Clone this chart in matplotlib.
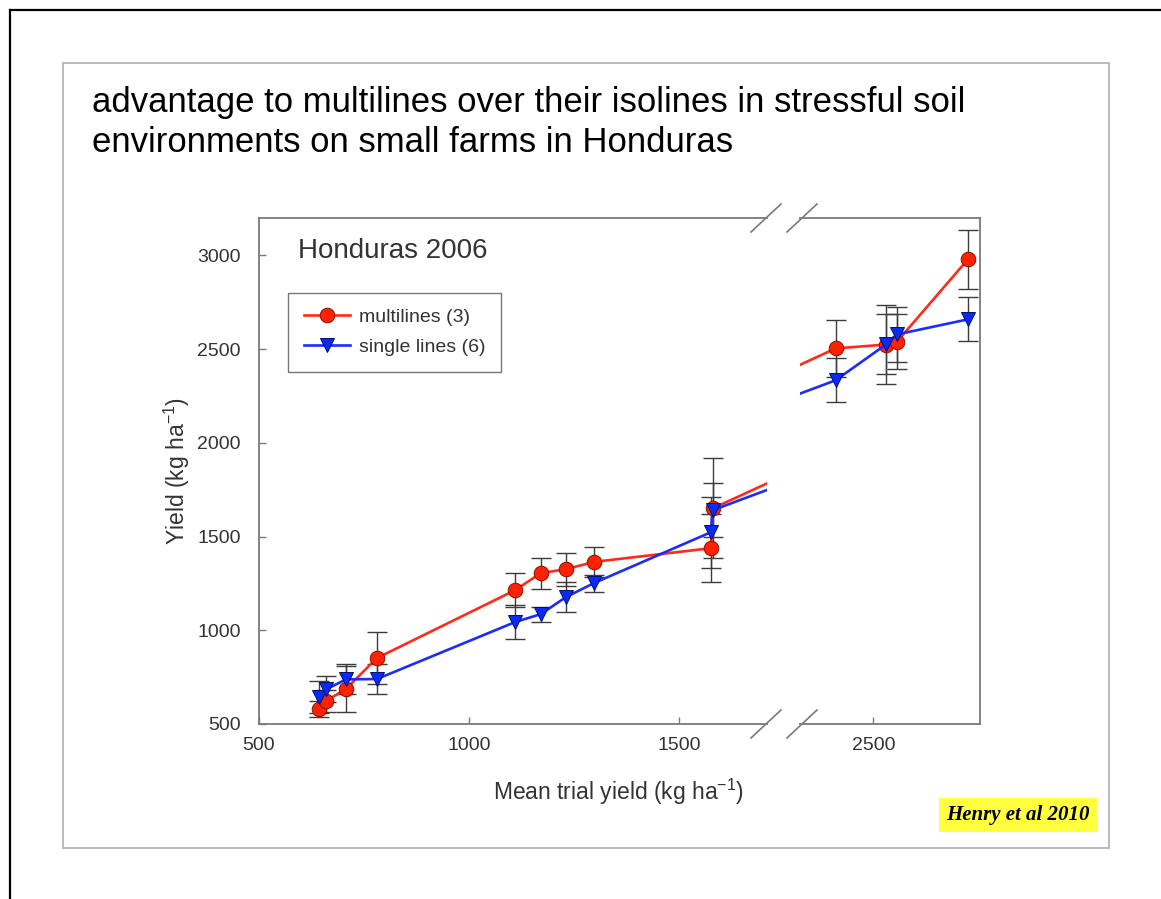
import matplotlib
matplotlib.use("Agg")
import matplotlib.pyplot as plt
from matplotlib.lines import Line2D
from matplotlib.patches import Rectangle

plt.rcParams['font.family'] = ['Liberation Sans', 'DejaVu Sans']

# mean trial yield for each trial (kg/ha)
trial_yield = [643, 660, 707, 781, 1110, 1171, 1231, 1298, 1576, 1581,
               2410, 2531, 2557, 2726]

# multilines (3)
multi_yield = [580, 623, 687, 852, 1214, 1305, 1326, 1365, 1438, 1651,
               2504, 2525, 2541, 2979]
multi_err = [45, 60, 125, 140, 90, 83, 88, 80, 180, 266,
             150, 210, 145, 157]

# single lines (6)
single_yield = [645, 685, 738, 740, 1044, 1086, 1177, 1252, 1523, 1641,
                2334, 2526, 2579, 2659]
single_err = [85, 70, 80, 80, 90, 40, 80, 45, 190, 145,
              118, 160, 145, 117]

W, H = 1161, 899
fig = plt.figure(figsize=(W / 100, H / 100), dpi=100)

def fx(px):
    return px / W

def fy(py):
    return 1 - py / H

# slide frame
fig.add_artist(Line2D([fx(10), fx(10)], [0, fy(10)], color='black', lw=1.6))
fig.add_artist(Line2D([fx(10), 1], [fy(10), fy(10)], color='black', lw=1.6))
fig.add_artist(Rectangle((fx(63), fy(848)), fx(1109) - fx(63), fy(63) - fy(848),
                         fill=False, edgecolor='#b4b4b4', lw=1.3))

fig.text(fx(92), fy(112), 'advantage to multilines over their isolines in stressful soil',
         fontsize=25, va='baseline', ha='left', color='black')
fig.text(fx(92), fy(152), 'environments on small farms in Honduras',
         fontsize=25, va='baseline', ha='left', color='black')

# broken x axis: two panels sharing the y range
left, right, top, bottom = 259, 767, 218, 724
ax1 = fig.add_axes([fx(left), fy(bottom), fx(right) - fx(left), fy(top) - fy(bottom)])
ax2 = fig.add_axes([fx(800), fy(bottom), fx(980) - fx(800), fy(top) - fy(bottom)])

spine_col = '#7a7a7a'
text_col = '#333333'

for ax in (ax1, ax2):
    ax.errorbar(trial_yield, multi_yield, yerr=multi_err, fmt='none',
                ecolor='#3c3c3c', elinewidth=1.0, capsize=7, capthick=1.0, zorder=2)
    ax.errorbar(trial_yield, single_yield, yerr=single_err, fmt='none',
                ecolor='#3c3c3c', elinewidth=1.0, capsize=7, capthick=1.0, zorder=2)
    ax.plot(trial_yield, multi_yield, color='#ff2a1a', lw=1.9, marker='o',
            markersize=10.5, markerfacecolor='#ff2200', markeredgecolor='#8a1000',
            markeredgewidth=0.7, label='multilines (3)', zorder=3)
    ax.plot(trial_yield, single_yield, color='#1a2cff', lw=1.9, marker='v',
            markersize=10.5, markerfacecolor='#0a2af5', markeredgecolor='#00106a',
            markeredgewidth=0.7, label='single lines (6)', zorder=4)
    ax.set_ylim(500, 3200)
    for s in ax.spines.values():
        s.set_color(spine_col)
        s.set_linewidth(1.3)
    ax.tick_params(direction='in', length=5, width=1, color=spine_col,
                   labelsize=14, labelcolor=text_col)
    ax.tick_params(axis='x', pad=9)
    ax.tick_params(axis='y', pad=13)

ax1.set_xlim(500, 1710)
ax2.set_xlim(2325, 2755)
ax1.set_xticks([500, 1000, 1500])
ax2.set_xticks([2500])
ax1.set_yticks([500, 1000, 1500, 2000, 2500, 3000])
ax2.set_yticks([])
ax1.spines['right'].set_visible(False)
ax2.spines['left'].set_visible(False)

ax1.set_ylabel('Yield (kg ha$^{\\mathregular{-1}}$)', fontsize=16.5, color=text_col)
ax1.yaxis.set_label_coords(-0.131, 0.5)
fig.text(fx(619), fy(792), 'Mean trial yield (kg ha$^{\\mathregular{-1}}$)', fontsize=16.5,
         color=text_col, ha='center', va='center')

ax1.text(0.077, 0.935, 'Honduras 2006', transform=ax1.transAxes, fontsize=20,
         color=text_col, ha='left', va='center')

leg = ax1.legend(loc='upper left', bbox_to_anchor=(0.057, 0.852), fontsize=14,
                 frameon=True, fancybox=False, edgecolor='#555555',
                 handlelength=2.4, borderpad=0.8, labelspacing=0.65,
                 handletextpad=0.45, borderaxespad=0)
leg.get_frame().set_linewidth(1.0)
for t in leg.get_texts():
    t.set_color(text_col)

# break marks on the top and bottom spines
for cx in (766, 802):
    for cy in (top, bottom):
        fig.add_artist(Line2D([fx(cx - 15), fx(cx + 15)], [fy(cy + 14), fy(cy - 14)],
                              color=spine_col, lw=1.2))

fig.text(fx(1018), fy(815), 'Henry et al 2010', fontsize=15, fontweight='bold',
         fontstyle='italic', family='Liberation Serif', ha='center', va='center',
         bbox=dict(boxstyle='square,pad=0.35', facecolor='#ffff40', edgecolor='none'))

fig.savefig('out.png', dpi=100)
